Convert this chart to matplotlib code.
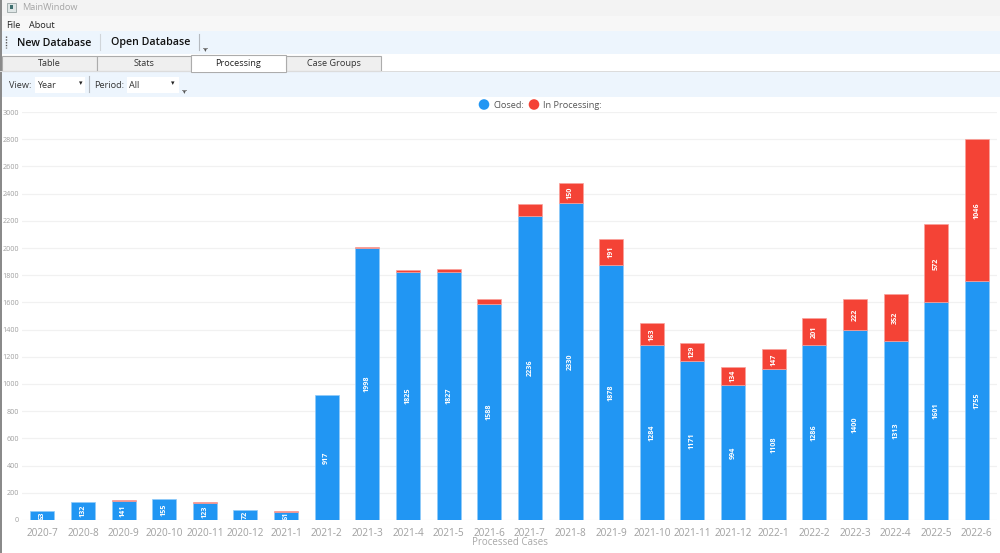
import matplotlib
matplotlib.use('Agg')
import matplotlib.pyplot as plt
from matplotlib.patches import Rectangle, Circle

plt.rcParams['font.family'] = ['Open Sans', 'DejaVu Sans']

months = ['2020-7', '2020-8', '2020-9', '2020-10', '2020-11', '2020-12', '2021-1', '2021-2',
          '2021-3', '2021-4', '2021-5', '2021-6', '2021-7', '2021-8', '2021-9', '2021-10',
          '2021-11', '2021-12', '2022-1', '2022-2', '2022-3', '2022-4', '2022-5', '2022-6']
closed = [63, 132, 141, 155, 123, 72, 61, 917, 1998, 1825, 1827, 1588, 2236, 2330, 1878, 1284,
          1171, 994, 1108, 1286, 1400, 1313, 1601, 1755]
processing = [0, 0, 4, 0, 8, 0, 2, 0, 8, 14, 16, 38, 90, 150, 191, 163,
              129, 134, 147, 201, 222, 352, 572, 1046]

BLUE = '#2196f3'
RED = '#f44336'
W, H = 1000, 553

fig = plt.figure(figsize=(W / 100, H / 100), dpi=100, facecolor='white')

# window chrome, drawn in pixel coordinates
ui = fig.add_axes([0, 0, 1, 1], zorder=0)
ui.set_xlim(0, W)
ui.set_ylim(H, 0)
ui.axis('off')


def box(x, y, w, h, fc, ec='none', lw=1):
    ui.add_patch(Rectangle((x, y), w, h, facecolor=fc, edgecolor=ec, linewidth=lw))


box(0, 0, W, 16, '#f3f3f3')
box(0, 16, W, 15, '#f7f7f7')
box(0, 31, W, 23, '#edf5fd')
box(0, 71, W, 26, '#edf5fd')
box(0, 0, 1.5, H, '#8a8a8a')
box(7, 3, 9, 9, '#dfe6e6', '#9aa5a5', 0.6)
box(10, 5, 3, 4, '#3f6f6f')
ui.text(22, 7.5, 'MainWindow', fontsize=6.6, color='#a5a5a5', va='center')
ui.text(6, 25.5, 'File', fontsize=6.6, color='#222222', va='center')
ui.text(29, 25.5, 'About', fontsize=6.6, color='#222222', va='center')
ui.text(17, 43, 'New Database', fontsize=7.7, color='#111111', va='center', fontweight='semibold')
ui.text(111, 43, 'Open Database', fontsize=7.7, color='#111111', va='center', fontweight='semibold')
ui.plot([100, 100], [34, 50], color='#d0d5da', lw=0.8)
ui.plot([198.5, 198.5], [34, 50], color='#b5bac0', lw=0.8)
ui.plot([6, 6], [36, 48], color='#555555', lw=1, ls=(0, (1, 1)))
ui.plot([203, 207], [47.5, 47.5], color='#777777', lw=0.6)
ui.text(205, 49.5, '▾', fontsize=4, color='#555555', ha='center', va='center')

# tabs
for x, w, label in [(2, 95, 'Table'), (97, 94, 'Stats'), (286, 95, 'Case Groups')]:
    box(x, 56, w, 15, '#efefef', '#acacac', 0.8)
    ui.text(x + w / 2, 63.5, label, fontsize=6.6, color='#333333', ha='center', va='center')
box(0, 70.5, W, 1, '#dcdcdc')
box(191, 54.5, 95, 17, 'white', '#acacac', 0.8)
box(191.5, 70, 94, 2, 'white')
ui.text(238.5, 63, 'Processing', fontsize=6.6, color='#222222', ha='center', va='center')

# view / period strip
ui.text(9, 85, 'View:', fontsize=6.6, color='#333333', va='center')
box(35, 77, 50, 16, 'white')
ui.text(37, 85, 'Year', fontsize=6.6, color='#333333', va='center')
ui.text(81, 84, '▾', fontsize=5, color='#222222', ha='center', va='center')
ui.plot([88.5, 88.5], [76, 92], color='#b5bac0', lw=0.8)
ui.text(94, 85, 'Period:', fontsize=6.6, color='#333333', va='center')
box(127, 77, 52, 16, 'white')
ui.text(129, 85, 'All', fontsize=6.6, color='#333333', va='center')
ui.text(173, 84, '▾', fontsize=5, color='#222222', ha='center', va='center')
ui.plot([182, 186], [89.5, 89.5], color='#777777', lw=0.6)
ui.text(184, 91.5, '▾', fontsize=4, color='#555555', ha='center', va='center')

# legend
ui.add_patch(Circle((484, 104.5), 5.3, color=BLUE, lw=0))
ui.text(493, 105, 'Closed:', fontsize=6.6, color='#555555', va='center')
ui.add_patch(Circle((534, 104.5), 5.3, color=RED, lw=0))
ui.text(543, 105, 'In Processing:', fontsize=6.6, color='#555555', va='center')

# the chart
ax = fig.add_axes([22 / W, 1 - 520 / H, (997.2 - 22) / W, (520 - 112) / H], zorder=1)
ax.patch.set_alpha(0)
x = list(range(len(months)))
ax.bar(x, closed, width=0.59, color=BLUE, edgecolor='#90caf9', linewidth=0.5, zorder=3)
# no outline for the empty ones, they would leave a pink line
ax.bar(x, processing, width=0.59, bottom=closed, color=RED, edgecolor='#f9a19a',
       linewidth=[0.5 if p > 0 else 0 for p in processing], zorder=3)

for i in x:
    ax.text(i, closed[i] / 2, str(closed[i]), rotation=90, color='white', fontsize=5.2,
            fontweight='bold', ha='center', va='center', zorder=4)
    if processing[i] >= 100:
        ax.text(i, closed[i] + processing[i] / 2, str(processing[i]), rotation=90, color='white',
                fontsize=5.2, fontweight='bold', ha='center', va='center', zorder=4)

ax.set_xlim(-0.5, len(months) - 0.5)
ax.set_ylim(0, 3000)
ax.set_yticks(range(0, 3001, 200))
ax.set_xticks(x)
ax.set_xticklabels(months)
ax.tick_params(axis='x', length=0, labelsize=7.2, labelcolor='#a0a0a0', pad=5.5)
ax.tick_params(axis='y', length=0, labelsize=5.2, labelcolor='#a0a0a0', pad=2)
ax.grid(axis='y', color='#f1f1f1', lw=0.9, zorder=0)
for s in ax.spines.values():
    s.set_visible(False)
ax.set_xlabel('Processed Cases', fontsize=7, color='#a8a8a8', labelpad=-1)

fig.savefig('out.png', dpi=100)
